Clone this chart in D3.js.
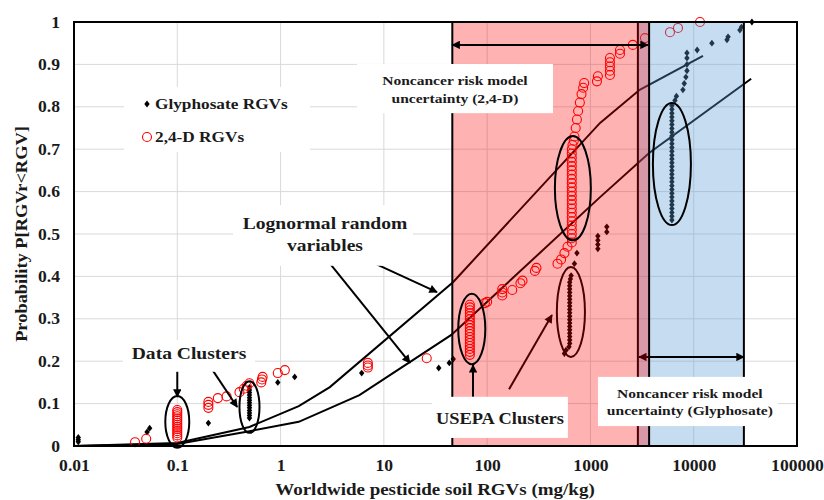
<!DOCTYPE html>
<html>
<head>
<meta charset="utf-8">
<script src="https://cdn.jsdelivr.net/npm/d3@7"></script>
<style>
  body { margin: 0; background: #fff; }
  text { font-family: "Liberation Serif", "Times New Roman", serif; font-weight: bold; fill: #1a1a1a; }
</style>
</head>
<body>
<div id="chart"></div>
<script>
// axis ticks
const xTicks = [0.01, 0.1, 1, 10, 100, 1000, 10000, 100000];
const xTickLabels = ["0.01", "0.1", "1", "10", "100", "1000", "10000", "100000"];
const yTicks = [0, 0.1, 0.2, 0.3, 0.4, 0.5, 0.6, 0.7, 0.8, 0.9, 1];
const yTickLabels = ["0", "0.1", "0.2", "0.3", "0.4", "0.5", "0.6", "0.7", "0.8", "0.9", "1"];

// lognormal random variable curves
const upperCurve = [[0.01, 0], [0.1, 0.007], [0.5, 0.045], [1.5, 0.094], [3, 0.139], [47, 0.387],
    [1240, 0.762], [3000, 0.84], [12300, 0.92]];
const lowerCurve = [[0.01, 0], [0.1, 0.005], [0.5, 0.035], [1.5, 0.057], [5.8, 0.12], [45, 0.262],
    [1240, 0.587], [3700, 0.691], [36000, 0.866]];

// Glyphosate RGVs
const glyphosate = [
    [0.011, 0.01], [0.011, 0.015], [0.011, 0.02],
    [0.051, 0.033], [0.054, 0.042], [0.2, 0.054],
    [0.5, 0.066], [0.5, 0.072], [0.5, 0.078], [0.5, 0.084], [0.5, 0.09], [0.5, 0.096], [0.5, 0.102],
    [0.5, 0.108], [0.5, 0.114], [0.5, 0.12], [0.5, 0.126], [0.5, 0.132], [0.5, 0.138],
    [0.94, 0.15], [1.37, 0.163], [6.1, 0.172],
    [34, 0.184], [43, 0.196], [47, 0.205],
    [560, 0.218], [580, 0.226], [620, 0.234], [630, 0.242], [630, 0.25], [630, 0.258], [630, 0.266],
    [630, 0.274], [630, 0.282], [630, 0.29], [630, 0.298], [630, 0.306], [630, 0.314], [630, 0.322],
    [630, 0.33], [630, 0.338], [630, 0.346], [630, 0.354], [630, 0.362], [630, 0.37], [630, 0.378],
    [630, 0.386], [640, 0.394], [650, 0.402],
    [700, 0.43], [740, 0.455], [1180, 0.465], [1180, 0.475], [1180, 0.485], [1180, 0.495],
    [1440, 0.505], [1440, 0.517],
    [6150, 0.533], [6150, 0.542], [6150, 0.551], [6150, 0.56], [6150, 0.569], [6150, 0.578], [6150, 0.587],
    [6150, 0.596], [6150, 0.605], [6150, 0.614], [6150, 0.623], [6150, 0.632], [6150, 0.641], [6150, 0.65],
    [6150, 0.659], [6150, 0.668], [6150, 0.677], [6150, 0.686], [6150, 0.695], [6150, 0.704], [6150, 0.713],
    [6150, 0.722], [6150, 0.731], [6150, 0.74], [6150, 0.749], [6150, 0.758], [6150, 0.767], [6150, 0.776],
    [6150, 0.785], [6150, 0.794], [6150, 0.803],
    [6580, 0.815], [6800, 0.825], [7860, 0.84], [8100, 0.855], [8400, 0.87], [8600, 0.885],
    [8600, 0.9], [8600, 0.915], [8600, 0.927], [10800, 0.934], [15000, 0.95], [21000, 0.958],
    [21500, 0.965], [28000, 0.981], [29000, 0.988], [36600, 1.0]
];

// 2,4-D RGVs
const d24 = [
    [0.039, 0.009], [0.05, 0.017],
    [0.1, 0.02], [0.1, 0.025], [0.1, 0.03], [0.1, 0.035], [0.1, 0.04], [0.1, 0.045], [0.1, 0.05],
    [0.1, 0.055], [0.1, 0.06], [0.1, 0.065], [0.1, 0.07], [0.1, 0.075], [0.1, 0.08], [0.1, 0.085],
    [0.2, 0.09], [0.2, 0.097], [0.2, 0.104],
    [0.247, 0.113], [0.3, 0.117], [0.4, 0.127], [0.44, 0.135], [0.47, 0.142], [0.5, 0.148],
    [0.65, 0.15], [0.66, 0.157], [0.67, 0.163], [0.94, 0.172], [1.1, 0.179],
    [7, 0.185], [7, 0.19], [7, 0.196], [26, 0.207],
    [68, 0.215], [68, 0.222], [68, 0.229], [68, 0.236], [68, 0.243], [68, 0.25], [68, 0.257], [68, 0.264],
    [68, 0.271], [68, 0.278], [68, 0.285], [68, 0.292], [68, 0.299], [68, 0.306], [68, 0.313], [68, 0.32],
    [68, 0.327], [68, 0.333],
    [95, 0.337], [100, 0.34], [140, 0.355], [140, 0.362], [140, 0.37], [175, 0.368], [210, 0.384],
    [220, 0.39], [290, 0.413], [300, 0.42], [480, 0.43], [520, 0.44], [560, 0.455], [600, 0.47],
    [660, 0.48], [660, 0.49], [660, 0.5], [660, 0.51], [660, 0.52], [660, 0.53], [660, 0.54], [660, 0.55],
    [660, 0.56], [660, 0.57], [660, 0.58], [660, 0.59], [660, 0.6], [660, 0.61], [660, 0.62], [660, 0.63],
    [660, 0.64], [660, 0.65], [660, 0.66], [660, 0.67], [660, 0.68], [660, 0.69], [660, 0.7], [670, 0.71],
    [690, 0.72], [700, 0.73], [720, 0.75], [740, 0.77], [760, 0.79], [790, 0.81], [820, 0.83], [850, 0.845],
    [870, 0.856], [1156, 0.86], [1180, 0.872], [1545, 0.875], [1545, 0.885], [1545, 0.895], [1545, 0.905],
    [1545, 0.915], [1932, 0.925], [1932, 0.934], [2572, 0.946], [3372, 0.962], [5890, 0.976],
    [7040, 0.986], [11500, 1.0]
];

// uncertainty ranges (x extents)
const range24D = [46, 3700];
const rangeGlyph = [2880, 30600];

// annotations, in data units (rx in decades, ry in probability)
const ellipses = [
    { x: 0.1, y: 0.057, rx: 0.116, ry: 0.061, under: false },
    { x: 0.5, y: 0.092, rx: 0.097, ry: 0.061, under: false },
    { x: 71, y: 0.276, rx: 0.131, ry: 0.083, under: false },
    { x: 676, y: 0.608, rx: 0.174, ry: 0.123, under: false },
    { x: 647, y: 0.316, rx: 0.136, ry: 0.106, under: true },
    { x: 6150, y: 0.665, rx: 0.184, ry: 0.144, under: false }
];
const arrows = [
    { x1: 0.1, y1: 0.179, x2: 0.1, y2: 0.116, both: false, under: false },
    { x1: 0.21, y1: 0.186, x2: 0.38, y2: 0.092, both: false, under: false },
    { x1: 6.3, y1: 0.443, x2: 32.7, y2: 0.363, both: false, under: false },
    { x1: 3.08, y1: 0.427, x2: 17.9, y2: 0.196, both: false, under: false },
    { x1: 73, y1: 0.116, x2: 73, y2: 0.191, both: false, under: false },
    { x1: 163, y1: 0.134, x2: 424, y2: 0.309, both: false, under: true },
    { x1: 46, y1: 0.946, x2: 3600, y2: 0.946, both: true, under: false },
    { x1: 2950, y1: 0.21, x2: 30600, y2: 0.21, both: true, under: true }
];
const labels = [
    { box: [0.0298, 0.565, 0.25, 0.175], x: 0.13, lines: ["Data Clusters"], y: [0.219], size: 17 },
    { box: [0.346, 19.1, 0.568, 0.425], x: 2.69, lines: ["Lognormal random", "variables"], y: [0.526, 0.474], size: 17 },
    { box: [5.5, 434, 0.901, 0.785], x: 48.8, lines: ["Noncancer risk model", "uncertainty (2,4-D)"], y: [0.863, 0.821], size: 13.5 },
    { box: [29.2, 605, 0.116, 0.019], x: 133, lines: ["USEPA Clusters"], y: [0.066], size: 16 },
    { box: [1183, 65300, 0.163, 0.047], x: 9180, lines: ["Noncancer risk model", "uncertainty (Glyphosate)"], y: [0.125, 0.085], size: 13.5 }
];
const legendItems = ["Glyphosate RGVs", "2,4-D RGVs"];

const width = 824;
const height = 500;
const margin = { top: 22, right: 27, bottom: 54, left: 74 };

const svg = d3.select('#chart')
    .append('svg')
    .attr('width', width)
    .attr('height', height);

const x = d3.scaleLog().domain([0.01, 100000]).range([margin.left, width - margin.right]);
const y = d3.scaleLinear().domain([0, 1]).range([height - margin.bottom, margin.top]);

const defs = svg.append('defs');
defs.append('marker')
    .attr('id', 'head')
    .attr('viewBox', '0 0 10 10')
    .attr('refX', 9).attr('refY', 5)
    .attr('markerWidth', 5).attr('markerHeight', 4.2)
    .attr('orient', 'auto-start-reverse')
    .append('path')
    .attr('d', 'M0,0L10,5L0,10Z')
    .attr('fill', '#000');

// gridlines
svg.append('g')
    .selectAll('line')
    .data(xTicks.slice(1, -1))
    .join('line')
    .attr('x1', d => x(d)).attr('x2', d => x(d))
    .attr('y1', y(0)).attr('y2', y(1))
    .attr('stroke', '#d9d9d9');
svg.append('g')
    .selectAll('line')
    .data(yTicks.slice(1, -1))
    .join('line')
    .attr('x1', x(0.01)).attr('x2', x(100000))
    .attr('y1', d => y(d)).attr('y2', d => y(d))
    .attr('stroke', '#d9d9d9');

// lognormal curves
const line = d3.line().x(d => x(d[0])).y(d => y(d[1]));
[upperCurve, lowerCurve].forEach(c => {
    svg.append('path')
        .datum(c)
        .attr('d', line)
        .attr('fill', 'none')
        .attr('stroke', '#000')
        .attr('stroke-width', 2);
});

// data points
const diamond = 'M0,-3.4L2.7,0L0,3.4L-2.7,0Z';
svg.append('g')
    .selectAll('path')
    .data(glyphosate)
    .join('path')
    .attr('d', diamond)
    .attr('transform', d => `translate(${x(d[0])},${y(d[1])})`)
    .attr('fill', '#000');

svg.append('g')
    .selectAll('circle')
    .data(d24)
    .join('circle')
    .attr('cx', d => x(d[0]))
    .attr('cy', d => y(d[1]))
    .attr('r', 4.5)
    .attr('fill', 'none')
    .attr('stroke', '#ff0000')
    .attr('stroke-width', 1.1);

function drawEllipses(g, list) {
    g.selectAll('ellipse')
        .data(list)
        .join('ellipse')
        .attr('cx', d => x(d.x))
        .attr('cy', d => y(d.y))
        .attr('rx', d => x(d.x * Math.pow(10, d.rx)) - x(d.x))
        .attr('ry', d => y(0) - y(d.ry))
        .attr('fill', 'none')
        .attr('stroke', '#000')
        .attr('stroke-width', 2);
}
function drawArrows(g, list) {
    g.selectAll('line')
        .data(list)
        .join('line')
        .attr('x1', d => x(d.x1)).attr('y1', d => y(d.y1))
        .attr('x2', d => x(d.x2)).attr('y2', d => y(d.y2))
        .attr('stroke', '#000')
        .attr('stroke-width', 2)
        .attr('marker-end', 'url(#head)')
        .attr('marker-start', d => d.both ? 'url(#head)' : null);
}

// glyphosate uncertainty band
svg.append('rect')
    .attr('x', x(rangeGlyph[0]))
    .attr('y', y(1))
    .attr('width', x(rangeGlyph[1]) - x(rangeGlyph[0]))
    .attr('height', y(0) - y(1))
    .attr('fill', 'rgba(91,155,213,0.35)')
    .attr('stroke', '#000')
    .attr('stroke-width', 2);

drawArrows(svg.append('g'), arrows.filter(d => d.under));
drawEllipses(svg.append('g'), ellipses.filter(d => d.under));

// 2,4-D uncertainty band
svg.append('rect')
    .attr('x', x(range24D[0]))
    .attr('y', y(1))
    .attr('width', x(range24D[1]) - x(range24D[0]))
    .attr('height', y(0) - y(1))
    .attr('fill', 'rgba(255,0,0,0.3)')
    .attr('stroke', '#000')
    .attr('stroke-width', 2);

// plot frame
svg.append('rect')
    .attr('x', x(0.01)).attr('y', y(1))
    .attr('width', x(100000) - x(0.01))
    .attr('height', y(0) - y(1))
    .attr('fill', 'none')
    .attr('stroke', '#000')
    .attr('stroke-width', 2);

drawEllipses(svg.append('g'), ellipses.filter(d => !d.under));
drawArrows(svg.append('g'), arrows.filter(d => !d.under));

// labels with white boxes
labels.forEach(l => {
    svg.append('rect')
        .attr('x', x(l.box[0])).attr('y', y(l.box[2]))
        .attr('width', x(l.box[1]) - x(l.box[0]))
        .attr('height', y(l.box[3]) - y(l.box[2]))
        .attr('fill', '#fff');
    l.lines.forEach((t, i) => {
        svg.append('text')
            .attr('class', 'wide')
            .attr('x', x(l.x))
            .attr('y', y(l.y[i]))
            .attr('dy', '0.35em')
            .attr('text-anchor', 'middle')
            .style('font-size', l.size + 'px')
            .text(t);
    });
});

// legend
const legend = svg.append('g');
legend.append('rect')
    .attr('x', x(0.0305)).attr('y', y(0.847))
    .attr('width', x(1.93) - x(0.0305))
    .attr('height', y(0.693) - y(0.847))
    .attr('fill', '#fff');
legend.append('path')
    .attr('d', diamond)
    .attr('transform', `translate(147,104)`)
    .attr('fill', '#000');
legend.append('circle')
    .attr('cx', 147).attr('cy', 137).attr('r', 4.5)
    .attr('fill', 'none').attr('stroke', '#ff0000').attr('stroke-width', 1.1);
legend.selectAll('text')
    .data(legendItems)
    .join('text')
    .attr('class', 'wide')
    .attr('x', 155)
    .attr('y', (d, i) => 104 + i * 33)
    .attr('dy', '0.35em')
    .style('font-size', '15px')
    .text(d => d);

// axes
const xAxis = svg.append('g')
    .attr('transform', `translate(0,${y(0)})`)
    .call(d3.axisBottom(x).tickValues(xTicks).tickFormat((d, i) => xTickLabels[i]).tickSize(0).tickPadding(14));
xAxis.select('.domain').remove();
xAxis.selectAll('text').style('font-size', '16px').attr('fill', '#1a1a1a').attr('class', 'tick-label');

const yAxis = svg.append('g')
    .attr('transform', `translate(${x(0.01)},0)`)
    .call(d3.axisLeft(y).tickValues(yTicks).tickFormat((d, i) => yTickLabels[i]).tickSize(0).tickPadding(14));
yAxis.select('.domain').remove();
yAxis.selectAll('text').style('font-size', '16px').attr('fill', '#1a1a1a').attr('class', 'tick-label');

svg.append('text')
    .attr('class', 'wide')
    .attr('x', 435)
    .attr('y', 495)
    .attr('text-anchor', 'middle')
    .style('font-size', '16.5px')
    .text('Worldwide pesticide soil RGVs (mg/kg)');

svg.append('text')
    .attr('class', 'wide')
    .attr('transform', 'translate(27,234)rotate(-90)')
    .attr('text-anchor', 'middle')
    .style('font-size', '16px')
    .text('Probability P[RGVr<RGV]');

// the original text is drawn slightly wider than Times
function widen(sel, k) {
    sel.each(function () {
        const w = this.getComputedTextLength();
        d3.select(this).attr('textLength', w * k).attr('lengthAdjust', 'spacingAndGlyphs');
    });
}
widen(svg.selectAll('text.wide'), 1.15);
widen(svg.selectAll('text.tick-label'), 1.1);
</script>
</body>
</html>
